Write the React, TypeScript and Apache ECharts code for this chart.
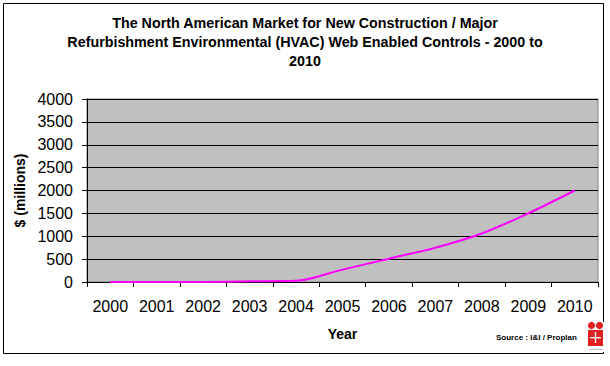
import React, { useEffect, useRef } from "react";
import * as echarts from "echarts";

const years = ["2000", "2001", "2002", "2003", "2004", "2005", "2006", "2007", "2008", "2009", "2010"];
const marketValues = [0, 0, 2, 15, 25, 270, 510, 750, 1060, 1500, 2000];
const titleLines = [
  "The North American Market for New Construction / Major",
  "Refurbishment Environmental (HVAC) Web Enabled Controls - 2000 to",
  "2010",
];
const sourceText = "Source : I&I / Proplan";

export default function App() {
  const ref = useRef<HTMLDivElement>(null);
  useEffect(() => {
    if (!ref.current) return;
    const chart = echarts.init(ref.current, undefined, { renderer: "svg" });
    const font = "Arial, 'Liberation Sans', sans-serif";
    chart.setOption({
      animation: false,
      backgroundColor: "#ffffff",
      title: {
        text: titleLines.join("\n"),
        left: "center",
        top: 13,
        padding: 0,
        textStyle: {
          fontFamily: font,
          fontWeight: "bold",
          fontSize: 14.3,
          lineHeight: 19,
          color: "#000",
        },
      },
      grid: {
        left: 87,
        right: 12,
        top: 99,
        bottom: 84,
        show: true,
        backgroundColor: "#c0c0c0",
        borderColor: "#808080",
        borderWidth: 1,
      },
      xAxis: {
        type: "category",
        data: years,
        boundaryGap: true,
        name: "Year",
        nameLocation: "middle",
        nameGap: 45,
        nameTextStyle: { fontFamily: font, fontWeight: "bold", fontSize: 14, color: "#000" },
        axisLine: { lineStyle: { color: "#000", width: 1 } },
        axisTick: { show: true, length: 5, lineStyle: { color: "#000" }, alignWithLabel: false },
        axisLabel: { fontFamily: font, fontSize: 16, color: "#000", margin: 16 },
        splitLine: { show: false },
      },
      yAxis: {
        type: "value",
        min: 0,
        max: 4000,
        interval: 500,
        name: "$ (millions)",
        nameLocation: "middle",
        nameGap: 56,
        nameRotate: 90,
        nameTextStyle: { fontFamily: font, fontWeight: "bold", fontSize: 14, color: "#000" },
        axisLine: { show: true, lineStyle: { color: "#000", width: 1 } },
        axisTick: { show: true, length: 5, lineStyle: { color: "#000" } },
        axisLabel: {
          fontFamily: font,
          fontSize: 16,
          color: "#000",
          margin: 14,
          formatter: (v: number) => String(v),
        },
        splitLine: { show: true, lineStyle: { color: "#000", width: 1 } },
      },
      series: [
        {
          type: "line",
          data: marketValues,
          smooth: 0.3,
          showSymbol: false,
          symbol: "none",
          lineStyle: { color: "#ff00ff", width: 2 },
          itemStyle: { color: "#ff00ff" },
        },
      ],
      graphic: [
        {
          type: "rect",
          shape: { x: 3.5, y: 3.5, width: 600, height: 350 },
          style: { fill: "none", stroke: "#000", lineWidth: 1 },
          silent: true,
          z: -1,
        },
        {
          type: "text",
          x: 496,
          y: 337,
          style: {
            text: sourceText,
            fontFamily: font,
            fontSize: 8,
            fontWeight: "bold",
            fill: "#000",
            verticalAlign: "middle",
          },
        },
        {
          type: "group",
          children: [
            { type: "rect", shape: { x: 587, y: 322, width: 17, height: 30 }, style: { fill: "#ffffff" } },
            { type: "circle", shape: { cx: 591.5, cy: 325.5, r: 3.6 }, style: { fill: "#e02020" } },
            { type: "circle", shape: { cx: 599.5, cy: 325.5, r: 3.6 }, style: { fill: "#e02020" } },
            { type: "rect", shape: { x: 588, y: 330, width: 15, height: 16 }, style: { fill: "#e02020" } },
            { type: "rect", shape: { x: 594.8, y: 332, width: 1.4, height: 11 }, style: { fill: "#ffffff" } },
            { type: "rect", shape: { x: 590, y: 337, width: 11, height: 1.4 }, style: { fill: "#ffffff" } },
            {
              type: "text",
              x: 595.5,
              y: 349,
              style: { text: "I&I Proplan", fontSize: 2.5, fill: "#555", align: "center", verticalAlign: "middle" },
            },
          ],
        },
      ],
    });
    return () => chart.dispose();
  }, []);
  return <div ref={ref} style={{ position: "fixed", left: 0, top: 0, width: 610, height: 366 }} />;
}
